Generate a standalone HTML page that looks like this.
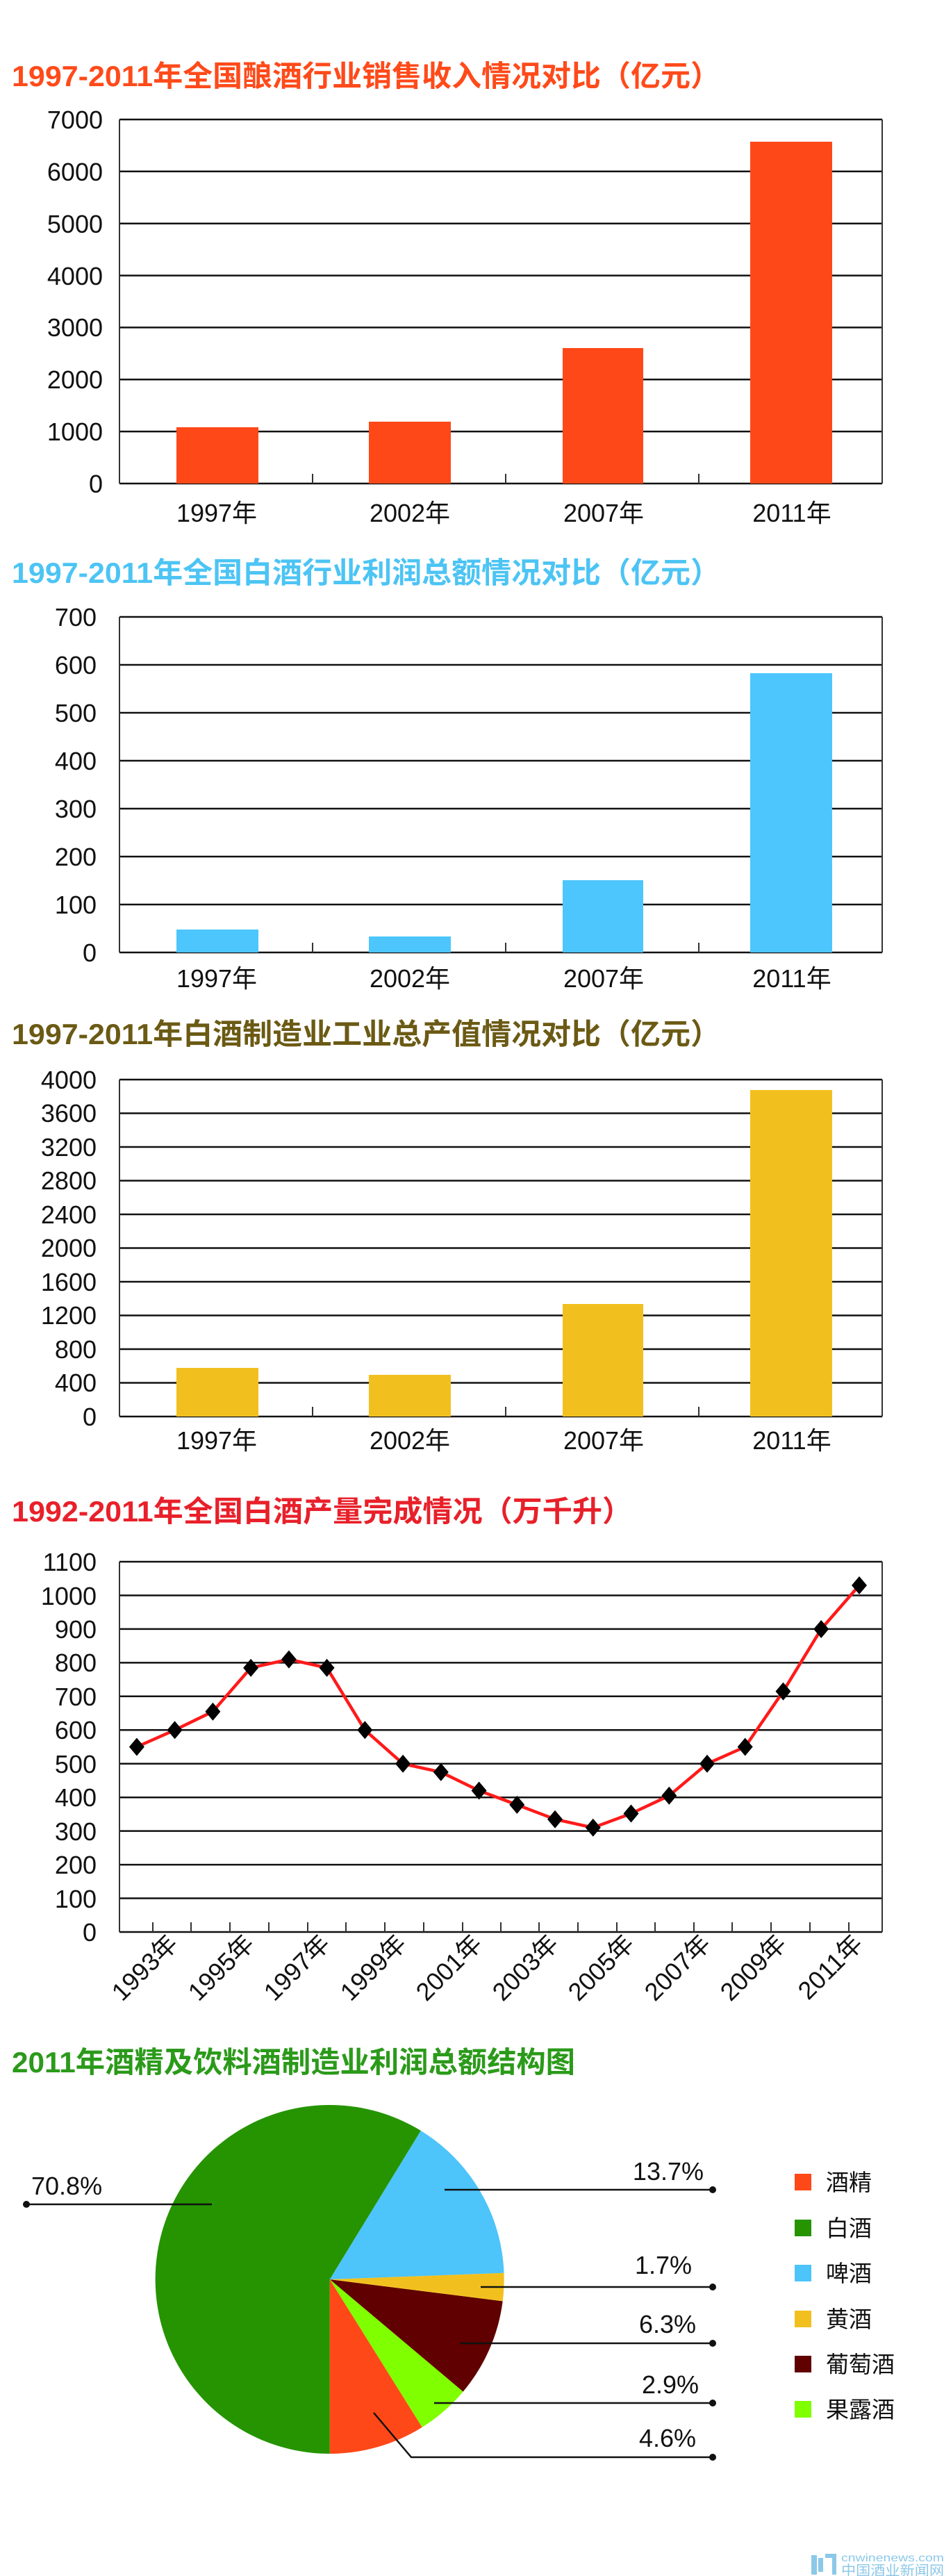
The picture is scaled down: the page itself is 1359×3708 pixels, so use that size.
<!DOCTYPE html>
<html><head><meta charset="utf-8"><style>
html,body{margin:0;padding:0;background:#fff;}
svg{display:block;}
text{font-family:"Liberation Sans","Noto Sans CJK SC",sans-serif;}
.t{font-weight:bold;font-size:42px;}
.ax{font-size:36px;fill:#111;}
.g{stroke:#111;stroke-width:2.5;}
.f{stroke:#333;stroke-width:2;fill:none;}
</style></head><body>
<svg width="1359" height="3708" viewBox="0 0 1359 3708" xmlns="http://www.w3.org/2000/svg">
<rect width="1359" height="3708" fill="#fff"/>

<!-- Chart 1 -->
<text class="t" x="17" y="124" fill="#ff4a1a" textLength="1020" lengthAdjust="spacingAndGlyphs">1997-2011年全国酿酒行业销售收入情况对比（亿元）</text>
<g class="g">
<line x1="172" y1="172" x2="1270" y2="172"/><line x1="172" y1="246.8" x2="1270" y2="246.8"/><line x1="172" y1="321.7" x2="1270" y2="321.7"/><line x1="172" y1="396.6" x2="1270" y2="396.6"/><line x1="172" y1="471.4" x2="1270" y2="471.4"/><line x1="172" y1="546.3" x2="1270" y2="546.3"/><line x1="172" y1="621.1" x2="1270" y2="621.1"/><line x1="172" y1="696" x2="1270" y2="696"/>
</g>
<line class="f" x1="172" y1="172" x2="172" y2="696"/><line class="f" x1="1270" y1="172" x2="1270" y2="696"/>
<g class="f"><line x1="450" y1="682" x2="450" y2="696"/><line x1="728" y1="682" x2="728" y2="696"/><line x1="1006" y1="682" x2="1006" y2="696"/></g>
<g fill="#ff4818"><rect x="254" y="615" width="118" height="81"/><rect x="531" y="607" width="118" height="89"/><rect x="810" y="501" width="116" height="195"/><rect x="1080" y="204" width="118" height="492"/></g>
<g class="ax" text-anchor="end"><text x="148" y="185">7000</text><text x="148" y="260">6000</text><text x="148" y="335">5000</text><text x="148" y="410">4000</text><text x="148" y="484">3000</text><text x="148" y="559">2000</text><text x="148" y="634">1000</text><text x="148" y="709">0</text></g>
<g class="ax" text-anchor="middle"><text x="312" y="751">1997年</text><text x="590" y="751">2002年</text><text x="869" y="751">2007年</text><text x="1140" y="751">2011年</text></g>

<!-- Chart 2 -->
<text class="t" x="17" y="839" fill="#4cc4f4" textLength="1020" lengthAdjust="spacingAndGlyphs">1997-2011年全国白酒行业利润总额情况对比（亿元）</text>
<g class="g">
<line x1="172" y1="888" x2="1270" y2="888"/><line x1="172" y1="957" x2="1270" y2="957"/><line x1="172" y1="1026" x2="1270" y2="1026"/><line x1="172" y1="1095" x2="1270" y2="1095"/><line x1="172" y1="1164" x2="1270" y2="1164"/><line x1="172" y1="1233" x2="1270" y2="1233"/><line x1="172" y1="1302" x2="1270" y2="1302"/><line x1="172" y1="1371" x2="1270" y2="1371"/>
</g>
<line class="f" x1="172" y1="888" x2="172" y2="1371"/><line class="f" x1="1270" y1="888" x2="1270" y2="1371"/>
<g class="f"><line x1="450" y1="1357" x2="450" y2="1371"/><line x1="728" y1="1357" x2="728" y2="1371"/><line x1="1006" y1="1357" x2="1006" y2="1371"/></g>
<g fill="#4cc6fc"><rect x="254" y="1338" width="118" height="33"/><rect x="531" y="1348" width="118" height="23"/><rect x="810" y="1267" width="116" height="104"/><rect x="1080" y="969" width="118" height="402"/></g>
<g class="ax" text-anchor="end"><text x="139" y="901">700</text><text x="139" y="970">600</text><text x="139" y="1039">500</text><text x="139" y="1108">400</text><text x="139" y="1177">300</text><text x="139" y="1246">200</text><text x="139" y="1315">100</text><text x="139" y="1384">0</text></g>
<g class="ax" text-anchor="middle"><text x="312" y="1421">1997年</text><text x="590" y="1421">2002年</text><text x="869" y="1421">2007年</text><text x="1140" y="1421">2011年</text></g>

<!-- Chart 3 -->
<text class="t" x="17" y="1503" fill="#6b5a14" textLength="1020" lengthAdjust="spacingAndGlyphs">1997-2011年白酒制造业工业总产值情况对比（亿元）</text>
<g class="g">
<line x1="172" y1="1554" x2="1270" y2="1554"/><line x1="172" y1="1602.5" x2="1270" y2="1602.5"/><line x1="172" y1="1651" x2="1270" y2="1651"/><line x1="172" y1="1699.5" x2="1270" y2="1699.5"/><line x1="172" y1="1748" x2="1270" y2="1748"/><line x1="172" y1="1796.5" x2="1270" y2="1796.5"/><line x1="172" y1="1845" x2="1270" y2="1845"/><line x1="172" y1="1893.5" x2="1270" y2="1893.5"/><line x1="172" y1="1942" x2="1270" y2="1942"/><line x1="172" y1="1990.5" x2="1270" y2="1990.5"/><line x1="172" y1="2039" x2="1270" y2="2039"/>
</g>
<line class="f" x1="172" y1="1554" x2="172" y2="2039"/><line class="f" x1="1270" y1="1554" x2="1270" y2="2039"/>
<g class="f"><line x1="450" y1="2025" x2="450" y2="2039"/><line x1="728" y1="2025" x2="728" y2="2039"/><line x1="1006" y1="2025" x2="1006" y2="2039"/></g>
<g fill="#f2c01e"><rect x="254" y="1969" width="118" height="70"/><rect x="531" y="1979" width="118" height="60"/><rect x="810" y="1877" width="116" height="162"/><rect x="1080" y="1569" width="118" height="470"/></g>
<g class="ax" text-anchor="end"><text x="139" y="1567">4000</text><text x="139" y="1615">3600</text><text x="139" y="1664">3200</text><text x="139" y="1712">2800</text><text x="139" y="1761">2400</text><text x="139" y="1809">2000</text><text x="139" y="1858">1600</text><text x="139" y="1906">1200</text><text x="139" y="1955">800</text><text x="139" y="2003">400</text><text x="139" y="2052">0</text></g>
<g class="ax" text-anchor="middle"><text x="312" y="2086">1997年</text><text x="590" y="2086">2002年</text><text x="869" y="2086">2007年</text><text x="1140" y="2086">2011年</text></g>

<!-- Line chart -->
<text class="t" x="17" y="2190" fill="#e8202a" textLength="893" lengthAdjust="spacingAndGlyphs">1992-2011年全国白酒产量完成情况（万千升）</text>
<g class="g">
<line x1="172" y1="2248" x2="1270" y2="2248"/><line x1="172" y1="2296.5" x2="1270" y2="2296.5"/><line x1="172" y1="2344.9" x2="1270" y2="2344.9"/><line x1="172" y1="2393.4" x2="1270" y2="2393.4"/><line x1="172" y1="2441.8" x2="1270" y2="2441.8"/><line x1="172" y1="2490.3" x2="1270" y2="2490.3"/><line x1="172" y1="2538.7" x2="1270" y2="2538.7"/><line x1="172" y1="2587.2" x2="1270" y2="2587.2"/><line x1="172" y1="2635.6" x2="1270" y2="2635.6"/><line x1="172" y1="2684.1" x2="1270" y2="2684.1"/><line x1="172" y1="2732.5" x2="1270" y2="2732.5"/><line x1="172" y1="2781" x2="1270" y2="2781"/>
</g>
<line class="f" x1="172" y1="2248" x2="172" y2="2781"/><line class="f" x1="1270" y1="2248" x2="1270" y2="2781"/>
<g class="f">
<line x1="220" y1="2767" x2="220" y2="2781"/><line x1="275" y1="2767" x2="275" y2="2781"/><line x1="331" y1="2767" x2="331" y2="2781"/><line x1="387" y1="2767" x2="387" y2="2781"/><line x1="443" y1="2767" x2="443" y2="2781"/><line x1="498" y1="2767" x2="498" y2="2781"/><line x1="554" y1="2767" x2="554" y2="2781"/><line x1="610" y1="2767" x2="610" y2="2781"/><line x1="666" y1="2767" x2="666" y2="2781"/><line x1="721" y1="2767" x2="721" y2="2781"/><line x1="776" y1="2767" x2="776" y2="2781"/><line x1="832" y1="2767" x2="832" y2="2781"/><line x1="888" y1="2767" x2="888" y2="2781"/><line x1="943" y1="2767" x2="943" y2="2781"/><line x1="999" y1="2767" x2="999" y2="2781"/><line x1="1054" y1="2767" x2="1054" y2="2781"/><line x1="1110" y1="2767" x2="1110" y2="2781"/><line x1="1166" y1="2767" x2="1166" y2="2781"/><line x1="1222" y1="2767" x2="1222" y2="2781"/>
</g>
<polyline fill="none" stroke="#ff1a1a" stroke-width="4.5" stroke-linejoin="round" points="196.9,2514.5 251.6,2490.3 306.4,2463.7 361.1,2400.7 415.9,2388.6 470.6,2400.7 525.3,2490.3 580.1,2538.8 634.8,2550.9 689.6,2577.5 744.3,2597.9 799,2618.7 853.8,2630.8 908.5,2610.5 963.3,2584.8 1018,2538.8 1072.7,2514.5 1127.5,2434.6 1182.2,2345 1237,2282"/>
<g fill="#000">
<path d="M196.9 2501.5l11 13l-11 13l-11-13z"/><path d="M251.6 2477.3l11 13l-11 13l-11-13z"/><path d="M306.4 2450.7l11 13l-11 13l-11-13z"/><path d="M361.1 2387.7l11 13l-11 13l-11-13z"/><path d="M415.9 2375.6l11 13l-11 13l-11-13z"/><path d="M470.6 2387.7l11 13l-11 13l-11-13z"/><path d="M525.3 2477.3l11 13l-11 13l-11-13z"/><path d="M580.1 2525.8l11 13l-11 13l-11-13z"/><path d="M634.8 2537.9l11 13l-11 13l-11-13z"/><path d="M689.6 2564.5l11 13l-11 13l-11-13z"/><path d="M744.3 2584.9l11 13l-11 13l-11-13z"/><path d="M799 2605.7l11 13l-11 13l-11-13z"/><path d="M853.8 2617.8l11 13l-11 13l-11-13z"/><path d="M908.5 2597.5l11 13l-11 13l-11-13z"/><path d="M963.3 2571.8l11 13l-11 13l-11-13z"/><path d="M1018 2525.8l11 13l-11 13l-11-13z"/><path d="M1072.7 2501.5l11 13l-11 13l-11-13z"/><path d="M1127.5 2421.6l11 13l-11 13l-11-13z"/><path d="M1182.2 2332l11 13l-11 13l-11-13z"/><path d="M1237 2269l11 13l-11 13l-11-13z"/>
</g>
<g class="ax" text-anchor="end">
<text x="139" y="2261">1100</text><text x="139" y="2310">1000</text><text x="139" y="2358">900</text><text x="139" y="2406">800</text><text x="139" y="2455">700</text><text x="139" y="2503">600</text><text x="139" y="2552">500</text><text x="139" y="2600">400</text><text x="139" y="2649">300</text><text x="139" y="2697">200</text><text x="139" y="2746">100</text><text x="139" y="2794">0</text>
</g>
<g class="ax" text-anchor="end">
<text transform="translate(258,2800) rotate(-45)">1993年</text>
<text transform="translate(368,2800) rotate(-45)">1995年</text>
<text transform="translate(477,2800) rotate(-45)">1997年</text>
<text transform="translate(587,2800) rotate(-45)">1999年</text>
<text transform="translate(696,2800) rotate(-45)">2001年</text>
<text transform="translate(806,2800) rotate(-45)">2003年</text>
<text transform="translate(915,2800) rotate(-45)">2005年</text>
<text transform="translate(1025,2800) rotate(-45)">2007年</text>
<text transform="translate(1134,2800) rotate(-45)">2009年</text>
<text transform="translate(1244,2800) rotate(-45)">2011年</text>
</g>

<!-- Pie -->
<text class="t" x="17" y="2983" fill="#2b9a1a" textLength="811" lengthAdjust="spacingAndGlyphs">2011年酒精及饮料酒制造业利润总额结构图</text>
<path d="M474.7 3281L474.7 3532A251 251 0 0 0 607.7 3493.9Z" fill="#ff4818"/>
<path d="M474.7 3281L607.7 3493.9A251 251 0 0 0 666.7 3442.6Z" fill="#80ff00"/>
<path d="M474.7 3281L666.7 3442.6A251 251 0 0 0 723.7 3312.4Z" fill="#600000"/>
<path d="M474.7 3281L723.7 3312.4A251 251 0 0 0 725.5 3271.8Z" fill="#f2c01e"/>
<path d="M474.7 3281L725.5 3271.8A251 251 0 0 0 605.8 3067Z" fill="#4dc4fa"/>
<path d="M474.7 3281L605.8 3067A251 251 0 1 0 474.7 3532Z" fill="#259400"/>
<g stroke="#111" stroke-width="2.5" fill="none">
<line x1="640" y1="3152" x2="1026" y2="3152"/>
<line x1="305" y1="3173" x2="38" y2="3173"/>
<line x1="692" y1="3292" x2="1026" y2="3292"/>
<line x1="662" y1="3373" x2="1026" y2="3373"/>
<line x1="625" y1="3459" x2="1026" y2="3459"/>
<polyline points="538,3473 592,3537 1026,3537"/>
</g>
<g fill="#111"><circle cx="1026" cy="3152" r="5"/><circle cx="38" cy="3173" r="5"/><circle cx="1026" cy="3292" r="5"/><circle cx="1026" cy="3373" r="5"/><circle cx="1026" cy="3459" r="5"/><circle cx="1026" cy="3537" r="5"/></g>
<g class="ax">
<text x="45" y="3159">70.8%</text>
<text x="1013" y="3138" text-anchor="end">13.7%</text>
<text x="996" y="3273" text-anchor="end">1.7%</text>
<text x="1002" y="3358" text-anchor="end">6.3%</text>
<text x="1006" y="3445" text-anchor="end">2.9%</text>
<text x="1002" y="3522" text-anchor="end">4.6%</text>
</g>
<rect x="1144" y="3129" width="24" height="24" fill="#ff4818"/>
<rect x="1144" y="3195" width="24" height="24" fill="#259400"/>
<rect x="1144" y="3260" width="24" height="24" fill="#4dc4fa"/>
<rect x="1144" y="3326" width="24" height="24" fill="#f2c01e"/>
<rect x="1144" y="3391" width="24" height="24" fill="#600000"/>
<rect x="1144" y="3456" width="24" height="24" fill="#80ff00"/>
<g style="font-size:33px" fill="#111">
<text x="1189" y="3153">酒精</text>
<text x="1189" y="3219">白酒</text>
<text x="1189" y="3284">啤酒</text>
<text x="1189" y="3350">黄酒</text>
<text x="1189" y="3415">葡萄酒</text>
<text x="1189" y="3480">果露酒</text>
</g>
<!-- watermark -->
<g fill="#8cc8e8">
<path d="M1168 3678h8v28h-8zM1178 3682h7v20h-7zM1188 3676h16v30h-6v-24h-10z"/>
<text x="1211" y="3687" style="font-size:16px" textLength="148" lengthAdjust="spacingAndGlyphs">cnwinenews.com</text>
<text x="1211" y="3707" style="font-size:20px" textLength="148" lengthAdjust="spacingAndGlyphs">中国酒业新闻网</text>
</g>
</svg>
</body></html>
